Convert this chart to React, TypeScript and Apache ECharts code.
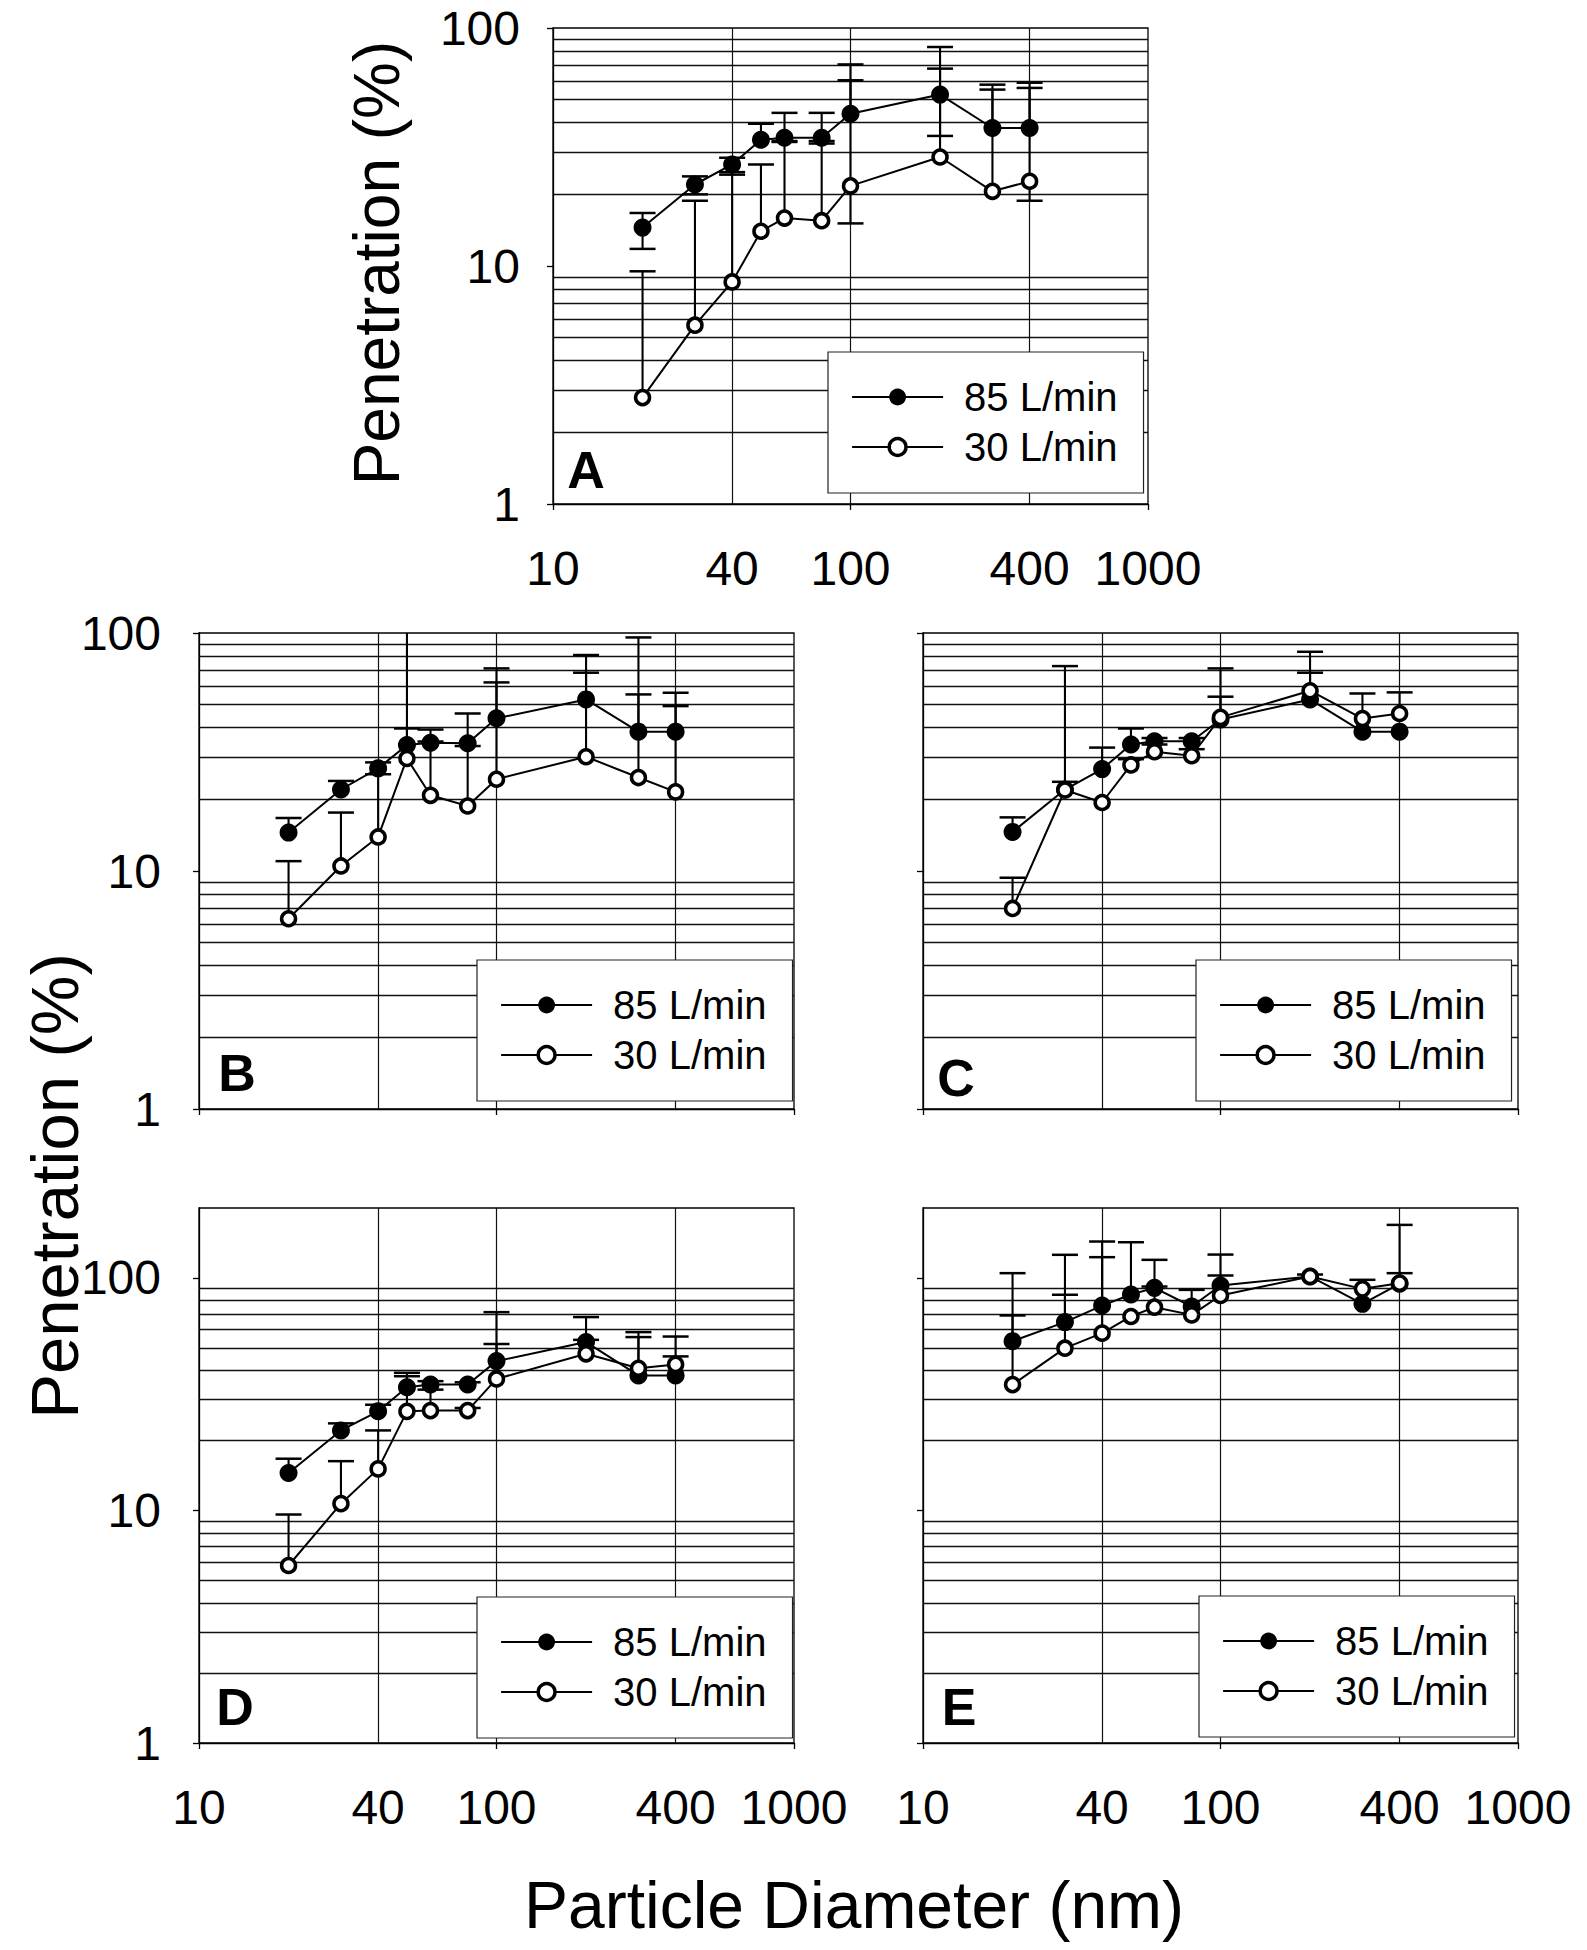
import React, { useEffect, useRef } from 'react';
import * as echarts from 'echarts';

// ---------- data ----------
const diameters = [20, 30, 40, 50, 60, 80, 100, 200, 300, 400];
const xTickLabels = [10, 40, 100, 400, 1000];
const xMajorTicks = [10, 100, 1000];
const yTickLabels = [1, 10, 100];
const minorGridValues = [2, 3, 4, 5, 6, 7, 8, 9, 20, 30, 40, 50, 60, 70, 80, 90];
const verticalGridValues = [40, 100, 400];
const seriesNames = ['85 L/min', '30 L/min'];

// Panel A
const a85 = [14.5, 22.0, 26.7, 33.9, 34.6, 34.6, 43.6, 52.5, 38.0, 38.0];
const a85Hi = [16.7, 23.8, 28.5, 39.6, 44.0, 44.0, 70.3, 83.2, 57.8, 58.9];
const a85Lo = [11.8, 20.0, 24.2, null, 33.2, 32.7, null, 35.2, null, null];
const a30 = [2.8, 5.64, 8.57, 14.0, 15.9, 15.5, 21.7, 28.7, 20.6, 22.7];
const a30Hi = [9.5, 18.8, 24.8, 26.7, 33.5, 33.5, 60.3, 67.5, 55.1, 56.0];
const a30Lo = [null, null, null, null, null, null, 15.1, null, null, 18.8];

// Panel B
const b85 = [14.5, 22.0, 27.0, 33.8, 34.6, 34.4, 43.8, 52.6, 38.5, 38.5];
const b85Hi = [16.7, 23.9, 28.6, 39.7, 39.3, 45.9, 71.0, 80.8, 55.2, 56.1];
const b30 = [6.3, 10.5, 13.9, 29.7, 20.8, 18.75, 24.3, 30.2, 24.7, 21.5];
const b30Hi = [11.0, 17.6, 25.5, 150, 35.0, 33.5, 62.0, 68.1, 95.8, 49.3];

// Panel C
const c85 = [14.6, 22.0, 26.8, 34.0, 35.1, 35.1, 43.3, 52.6, 38.5, 38.5];
const c85Hi = [16.8, 23.7, 33.0, 39.7, 36.2, 36.2, 71.0, 68.1, null, null];
const c30 = [6.96, 21.9, 19.4, 27.9, 31.7, 30.5, 44.2, 57.2, 43.7, 45.9];
const c30Hi = [9.37, 72.6, null, 29.5, 34.0, 32.5, 54.0, 83.4, 55.7, 56.3];

// Panel D
const d85 = [14.5, 22.1, 26.7, 33.9, 34.8, 34.8, 43.9, 53.0, 38.1, 38.1];
const d85Hi = [16.7, 23.7, 28.5, 39.1, 36.0, 35.6, 71.3, 67.9, 55.7, 46.0];
const d30 = [5.8, 10.7, 15.1, 26.7, 26.9, 26.9, 36.8, 47.2, 40.9, 42.5];
const d30Hi = [9.61, 16.3, 22.1, 37.8, 33.1, 27.6, 52.0, 54.2, 58.5, 56.0];

// Panel E
const e85 = [53.5, 64.6, 76.1, 84.9, 90.7, 75.4, 92.8, 101.5, 77.4, 94.4];
const e85Hi = [69.0, 84.7, 122.9, 142.5, 119.7, 88.9, 126.1, 103.5, null, 104.9];
const e30 = [34.8, 49.9, 57.9, 68.3, 74.9, 69.4, 84.1, 101.5, 89.8, 95.0];
const e30Hi = [104.9, 125.8, 143.5, null, 91.9, null, 102.5, null, 98.2, 169.2];

const none = diameters.map(() => null);

// ---------- layout ----------
const FONT = '"Liberation Sans", Arial, Helvetica, sans-serif';

const panels = [
  { letter: 'A', v85: a85, hi85: a85Hi, lo85: a85Lo, v30: a30, hi30: a30Hi, lo30: a30Lo,
    yMax: 100, yLabels: true, yLabelMargin: 33,
    grid: { left: 553, top: 28, width: 595, height: 476 },
    legend: { left: 828, top: 352 }, letterPos: [586, 470] },
  { letter: 'B', v85: b85, hi85: b85Hi, lo85: none, v30: b30, hi30: b30Hi, lo30: none,
    yMax: 100, yLabels: true, yLabelMargin: 38,
    grid: { left: 199, top: 633, width: 595, height: 476 },
    legend: { left: 477, top: 960 }, letterPos: [237, 1073] },
  { letter: 'C', v85: c85, hi85: c85Hi, lo85: none, v30: c30, hi30: c30Hi, lo30: none,
    yMax: 100, yLabels: false, yLabelMargin: 38,
    grid: { left: 923, top: 633, width: 595, height: 476 },
    legend: { left: 1196, top: 960 }, letterPos: [956, 1078] },
  { letter: 'D', v85: d85, hi85: d85Hi, lo85: none, v30: d30, hi30: d30Hi, lo30: none,
    yMax: 200, yLabels: true, yLabelMargin: 38,
    grid: { left: 199, top: 1208, width: 595, height: 535 },
    legend: { left: 477, top: 1597 }, letterPos: [235, 1707] },
  { letter: 'E', v85: e85, hi85: e85Hi, lo85: none, v30: e30, hi30: e30Hi, lo30: none,
    yMax: 200, yLabels: false, yLabelMargin: 38,
    grid: { left: 923, top: 1208, width: 595, height: 535 },
    legend: { left: 1199, top: 1596 }, letterPos: [959, 1707] },
];

function errorItems(vals: number[], ends: (number | null)[]) {
  const out: number[][] = [];
  vals.forEach((v, i) => {
    const e = ends[i];
    if (e != null) out.push([diameters[i], v, e]);
  });
  return out;
}

const renderErrorBar = (params: any, api: any) => {
  const x = api.value(0);
  const y = api.value(1);
  const end = api.value(2);
  const p0 = api.coord([x, y]);
  const p1 = api.coord([x, end]);
  return {
    type: 'group',
    children: [
      { type: 'line', shape: { x1: p0[0], y1: p0[1], x2: p1[0], y2: p1[1] }, style: { stroke: '#000', lineWidth: 2.1 } },
      { type: 'line', shape: { x1: p1[0] - 13, y1: p1[1], x2: p1[0] + 13, y2: p1[1] }, style: { stroke: '#000', lineWidth: 2.5 } },
    ],
  };
};

function buildOption() {
  const grids: any[] = [];
  const xAxes: any[] = [];
  const yAxes: any[] = [];
  const series: any[] = [];
  const legends: any[] = [];
  const graphics: any[] = [];

  panels.forEach((p, i) => {
    grids.push({
      ...p.grid, show: true, borderColor: '#000', borderWidth: 1.3,
      backgroundColor: 'transparent', containLabel: false, outerBoundsMode: 'none',
    });
    xAxes.push({
      gridIndex: i, type: 'log', logBase: 10, min: 10, max: 1000,
      axisLine: { show: true, lineStyle: { color: '#000', width: 1.3 } },
      axisTick: { show: true, customValues: xMajorTicks, length: 6, lineStyle: { color: '#000', width: 1.3 } },
      axisLabel: {
        show: p.letter !== 'B' && p.letter !== 'C',
        customValues: xTickLabels, formatter: (v: number) => String(Math.round(v)),
        fontSize: 48, color: '#000', fontFamily: FONT, margin: 40, lineHeight: 48,
      },
      splitLine: { show: false }, minorTick: { show: false }, minorSplitLine: { show: false },
    });
    yAxes.push({
      gridIndex: i, type: 'log', logBase: 10, min: 1, max: p.yMax,
      axisLine: { show: true, lineStyle: { color: '#000', width: 1.3 } },
      axisTick: { show: true, customValues: yTickLabels, length: 6, lineStyle: { color: '#000', width: 1.3 } },
      axisLabel: {
        show: p.yLabels, customValues: yTickLabels, formatter: (v: number) => String(Math.round(v)),
        fontSize: 48, color: '#000', fontFamily: FONT, margin: p.yLabelMargin,
      },
      splitLine: { show: false }, minorTick: { show: false }, minorSplitLine: { show: false },
    });

    // grid lines (through the axes' own scales)
    series.push({
      type: 'line', name: 'grid' + p.letter, xAxisIndex: i, yAxisIndex: i, data: [], z: 1,
      silent: true,
      markLine: {
        z: 1, silent: true, symbol: ['none', 'none'], label: { show: false },
        lineStyle: { color: '#111', width: 1.4, type: 'solid' },
        emphasis: { disabled: true },
        data: [
          ...minorGridValues.filter((v) => v < p.yMax).map((v) => ({ yAxis: v })),
          ...verticalGridValues.map((v) => ({ xAxis: v, lineStyle: { width: 1.2 } })),
        ],
      },
    });

    const bars85 = [...errorItems(p.v85, p.hi85), ...errorItems(p.v85, p.lo85)];
    const bars30 = [...errorItems(p.v30, p.hi30), ...errorItems(p.v30, p.lo30)];
    series.push({
      type: 'custom', name: 'err' + p.letter, xAxisIndex: i, yAxisIndex: i, clip: true, z: 2, silent: true,
      encode: { x: 0, y: 1 },
      renderItem: renderErrorBar,
      data: [...bars85, ...bars30],
    });

    series.push({
      type: 'line', name: seriesNames[0], xAxisIndex: i, yAxisIndex: i, z: 3,
      data: diameters.map((d, k) => [d, p.v85[k]]),
      symbol: 'circle', symbolSize: 18,
      itemStyle: { color: '#000', borderWidth: 0 },
      lineStyle: { color: '#000', width: 2 },
    });
    series.push({
      type: 'line', name: seriesNames[1], xAxisIndex: i, yAxisIndex: i, z: 3,
      data: diameters.map((d, k) => [d, p.v30[k]]),
      symbol: 'circle', symbolSize: 14,
      itemStyle: { color: '#fff', borderColor: '#000', borderWidth: 3.5 },
      lineStyle: { color: '#000', width: 2 },
    });

    legends.push({
      orient: 'vertical', left: p.legend.left, top: p.legend.top, z: 6,
      selectedMode: false,
      data: [
        { name: seriesNames[0], itemStyle: { color: '#000', borderWidth: 0 }, lineStyle: { color: '#000', width: 2.2 } },
        { name: seriesNames[1], itemStyle: { color: '#fff', borderColor: '#000', borderWidth: 3.5 }, lineStyle: { color: '#000', width: 2.2 } },
      ],
      itemWidth: 91, itemHeight: 21, itemGap: 6,
      padding: [23, 26, 24, 23],
      backgroundColor: '#fff', borderColor: '#222', borderWidth: 1.2, borderRadius: 0,
      textStyle: { fontSize: 40, fontFamily: FONT, color: '#000', lineHeight: 44, padding: [0, 0, 0, 16] },
    });

    graphics.push({
      type: 'text', x: p.letterPos[0], y: p.letterPos[1], z: 10,
      style: { text: p.letter, fontSize: 52, fontWeight: 'bold', fontFamily: FONT, fill: '#000', align: 'center', verticalAlign: 'middle' },
    });
  });

  graphics.push({
    type: 'text', x: 377, y: 263, rotation: Math.PI / 2,
    style: { text: 'Penetration (%)', fontSize: 64, fontFamily: FONT, fill: '#000', align: 'center', verticalAlign: 'middle' },
  });
  graphics.push({
    type: 'text', x: 54, y: 1186, rotation: Math.PI / 2,
    style: { text: 'Penetration (%)', fontSize: 67, fontFamily: FONT, fill: '#000', align: 'center', verticalAlign: 'middle' },
  });
  graphics.push({
    type: 'text', x: 854, y: 1905,
    style: { text: 'Particle Diameter (nm)', fontSize: 66, fontFamily: FONT, fill: '#000', align: 'center', verticalAlign: 'middle' },
  });

  return {
    animation: false,
    backgroundColor: '#fff',
    textStyle: { fontFamily: FONT },
    grid: grids,
    xAxis: xAxes,
    yAxis: yAxes,
    legend: legends,
    series,
    graphic: graphics,
  };
}

export default function App() {
  const ref = useRef<HTMLDivElement>(null);
  useEffect(() => {
    if (!ref.current) return;
    const chart = echarts.init(ref.current, null, { renderer: 'svg' });
    chart.setOption(buildOption() as any);
    return () => chart.dispose();
  }, []);
  return <div ref={ref} style={{ position: 'absolute', left: 0, top: 0, width: 1587, height: 1950 }} />;
}
